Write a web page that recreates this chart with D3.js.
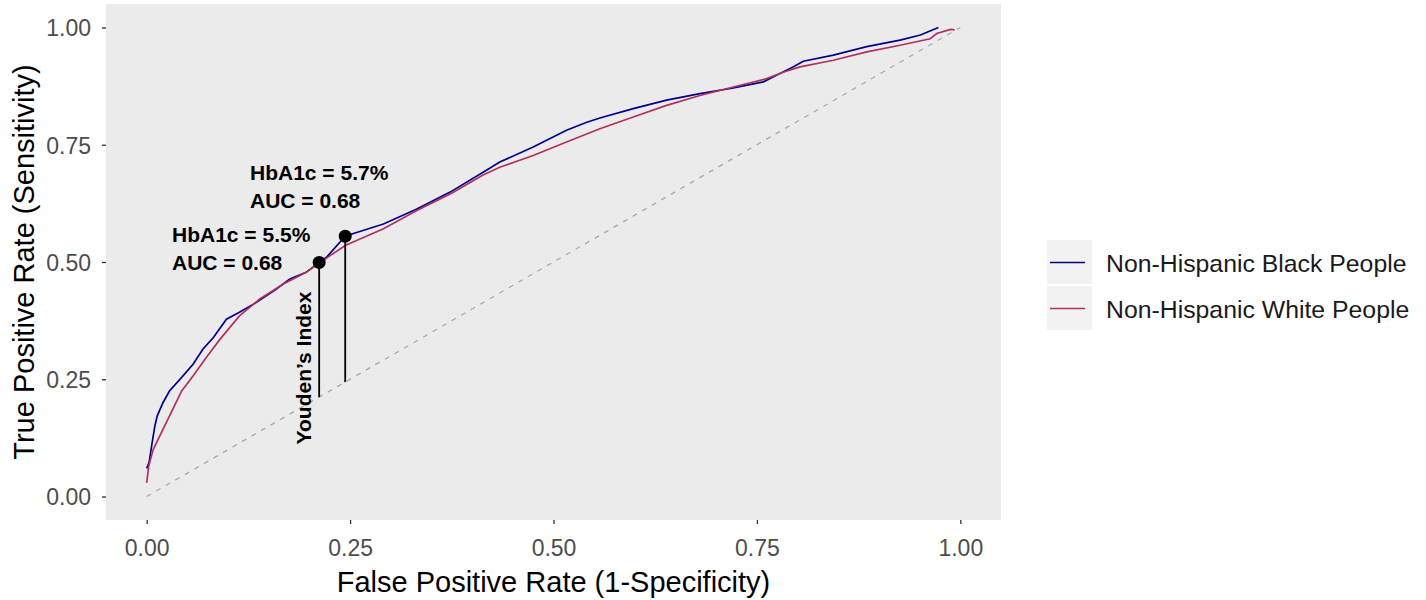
<!DOCTYPE html>
<html>
<head>
<meta charset="utf-8">
<script src="https://cdn.jsdelivr.net/npm/d3@7"></script>
<style>
  body { margin: 0; background: #fff; }
  text { font-family: "Liberation Sans", Arial, sans-serif; }
</style>
</head>
<body>
<div class="chart-area"></div>
<script>
// ROC curves (fpr, tpr)
const blackFpr = [0, 0.003, 0.006, 0.010, 0.013, 0.020, 0.028, 0.043, 0.057, 0.069, 0.082, 0.098, 0.114, 0.135, 0.159, 0.176, 0.196, 0.212, 0.221, 0.244, 0.258, 0.291, 0.332, 0.373, 0.414, 0.434, 0.475, 0.516, 0.541, 0.557, 0.598, 0.639, 0.680, 0.721, 0.738, 0.758, 0.774, 0.795, 0.807, 0.844, 0.885, 0.926, 0.951, 0.973];
const blackTpr = [0.06, 0.073, 0.107, 0.150, 0.172, 0.200, 0.225, 0.254, 0.282, 0.314, 0.339, 0.378, 0.393, 0.414, 0.442, 0.464, 0.478, 0.499, 0.510, 0.555, 0.563, 0.581, 0.613, 0.649, 0.692, 0.713, 0.745, 0.781, 0.798, 0.807, 0.827, 0.845, 0.859, 0.871, 0.877, 0.884, 0.898, 0.916, 0.928, 0.941, 0.959, 0.973, 0.984, 1.0];

const whiteFpr = [0, 0.0025, 0.008, 0.020, 0.032, 0.043, 0.057, 0.073, 0.090, 0.114, 0.139, 0.168, 0.196, 0.225, 0.244, 0.291, 0.332, 0.373, 0.414, 0.434, 0.475, 0.516, 0.557, 0.598, 0.639, 0.680, 0.721, 0.762, 0.783, 0.803, 0.844, 0.885, 0.926, 0.963, 0.971, 0.988, 0.993];
const whiteTpr = [0.029, 0.065, 0.100, 0.143, 0.186, 0.225, 0.257, 0.296, 0.335, 0.385, 0.421, 0.453, 0.478, 0.513, 0.535, 0.571, 0.610, 0.645, 0.686, 0.702, 0.727, 0.756, 0.784, 0.809, 0.834, 0.855, 0.873, 0.891, 0.905, 0.916, 0.930, 0.948, 0.962, 0.976, 0.987, 0.996, 0.995];

const seriesNames = ["Non-Hispanic Black People", "Non-Hispanic White People"];
const seriesColors = ["#00008B", "#B03060"];

// Youden points
const youdenFpr = [0.212, 0.244];
const youdenTpr = [0.499, 0.555];
const youdenLabels = [["HbA1c = 5.5%", "AUC = 0.68"], ["HbA1c = 5.7%", "AUC = 0.68"]];

const ticks = [0, 0.25, 0.5, 0.75, 1];

const width = 1426, height = 600;
const panel = {left: 106, right: 1001, top: 4, bottom: 520};

const svg = d3.select(".chart-area").append("svg")
  .attr("width", width).attr("height", height);

const x = d3.scaleLinear().domain([-0.05, 1.05]).range([panel.left, panel.right]);
const y = d3.scaleLinear().domain([-0.05, 1.05]).range([panel.bottom, panel.top]);

// panel background
svg.append("rect")
  .attr("x", panel.left).attr("y", panel.top)
  .attr("width", panel.right - panel.left).attr("height", panel.bottom - panel.top)
  .attr("fill", "#ebebeb");

// axes
const xAxis = svg.append("g")
  .attr("transform", `translate(0,${panel.bottom})`)
  .call(d3.axisBottom(x).tickValues(ticks).tickFormat(d3.format(".2f")).tickSize(4).tickPadding(4));
const yAxis = svg.append("g")
  .attr("transform", `translate(${panel.left},0)`)
  .call(d3.axisLeft(y).tickValues(ticks).tickFormat(d3.format(".2f")).tickSize(4).tickPadding(4));
[xAxis, yAxis].forEach(a => {
  a.select(".domain").remove();
  a.selectAll(".tick line").attr("stroke", "#333").attr("stroke-width", 1.3);
  a.selectAll(".tick text").attr("fill", "#4d4d4d").style("font-size", "23px")
    .style("font-family", '"Liberation Sans", Arial, sans-serif');
});
xAxis.selectAll(".tick text").attr("dy", null).attr("y", 36);
yAxis.selectAll(".tick text").attr("x", -15).attr("dy", "0.36em");

// diagonal reference
svg.append("line")
  .attr("x1", x(0)).attr("y1", y(0)).attr("x2", x(1)).attr("y2", y(1))
  .attr("stroke", "#aaaaaa").attr("stroke-width", 1.3).attr("stroke-dasharray", "5,6");

// curves
const line = d3.line().x(d => x(d[0])).y(d => y(d[1]));
const series = [d3.zip(blackFpr, blackTpr), d3.zip(whiteFpr, whiteTpr)];
series.forEach((s, i) => {
  svg.append("path").datum(s)
    .attr("d", line)
    .attr("fill", "none")
    .attr("stroke", seriesColors[i])
    .attr("stroke-width", 1.7);
});

// Youden segments down to the diagonal, and points
youdenFpr.forEach((fx, i) => {
  svg.append("line")
    .attr("x1", x(fx)).attr("x2", x(fx))
    .attr("y1", y(youdenTpr[i])).attr("y2", y(fx))
    .attr("stroke", "#000").attr("stroke-width", 1.8);
  svg.append("circle")
    .attr("cx", x(fx)).attr("cy", y(youdenTpr[i])).attr("r", 6.5)
    .attr("fill", "#000");
});

// annotation text
const labelPos = [[172, 242], [250, 180]];
youdenLabels.forEach((lines, i) => {
  lines.forEach((t, j) => {
    svg.append("text")
      .attr("x", labelPos[i][0]).attr("y", labelPos[i][1] + j * 27.5)
      .attr("font-size", 21).attr("font-weight", "bold").attr("fill", "#000")
      .text(t);
  });
});

svg.append("text")
  .attr("transform", "translate(311,368) rotate(-90)")
  .attr("text-anchor", "middle")
  .attr("font-size", 21).attr("font-weight", "bold")
  .text("Youden\u2019s Index");

// axis titles
svg.append("text")
  .attr("x", (panel.left + panel.right) / 2).attr("y", 592)
  .attr("text-anchor", "middle").attr("font-size", 29).attr("fill", "#000")
  .text("False Positive Rate (1-Specificity)");
svg.append("text")
  .attr("transform", `translate(34,${(panel.top + panel.bottom) / 2}) rotate(-90)`)
  .attr("text-anchor", "middle").attr("font-size", 29).attr("fill", "#000")
  .text("True Positive Rate (Sensitivity)");

// legend
const legend = svg.append("g").attr("transform", "translate(1047,240)");
seriesNames.forEach((name, i) => {
  const g = legend.append("g").attr("transform", `translate(0,${i * 46})`);
  g.append("rect").attr("width", 45).attr("height", 44).attr("fill", "#f2f2f2");
  g.append("line").attr("x1", 3).attr("x2", 38).attr("y1", 22.5).attr("y2", 22.5)
    .attr("stroke", seriesColors[i]).attr("stroke-width", 1.7);
  g.append("text").attr("x", 59).attr("y", 32)
    .attr("font-size", 24.8).attr("fill", "#1a1a1a")
    .text(name);
});
</script>
</body>
</html>
